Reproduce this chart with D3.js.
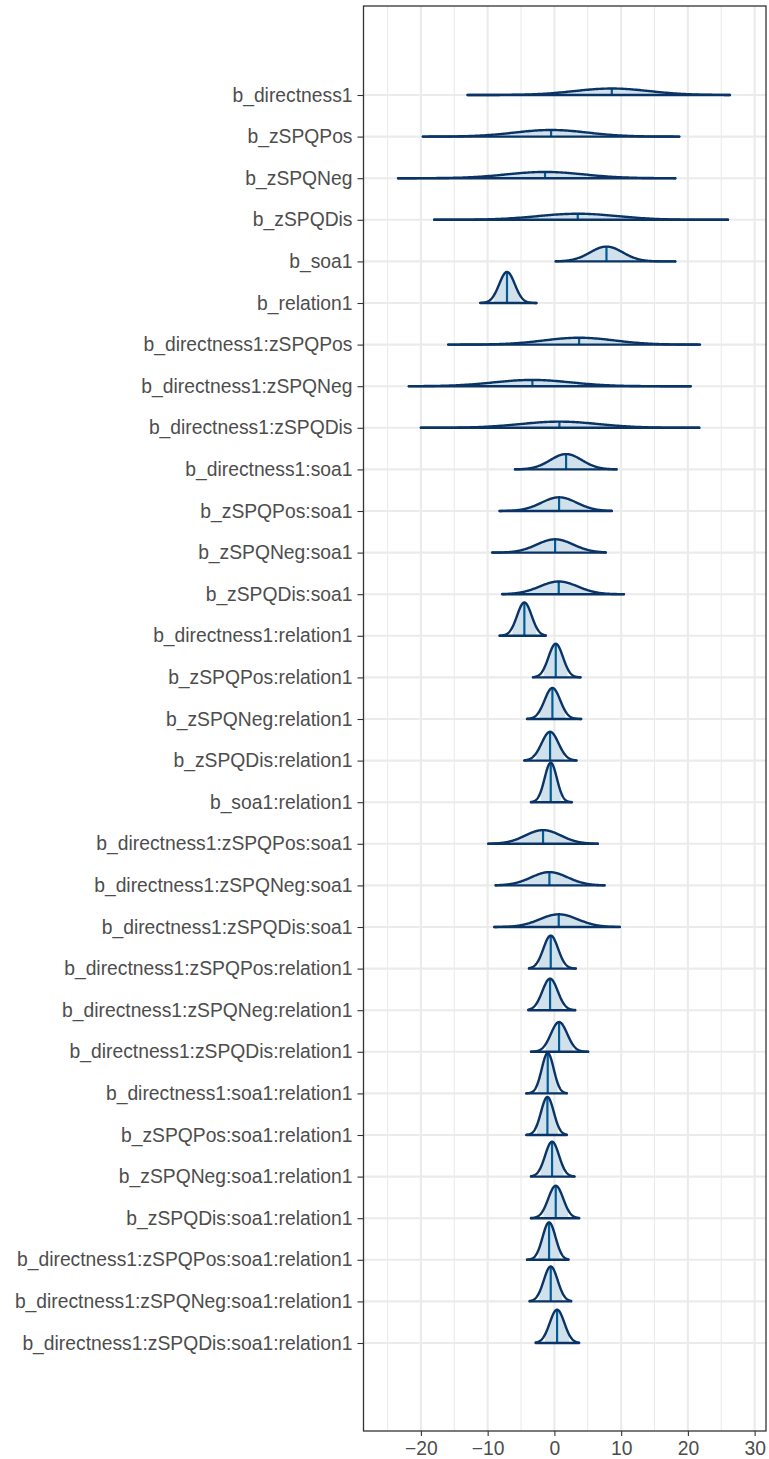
<!DOCTYPE html>
<html>
<head>
<meta charset="utf-8">
<script src="https://cdn.jsdelivr.net/npm/d3@7"></script>
<style>
  html, body { margin: 0; padding: 0; background: #ffffff; }
  svg { display: block; }
</style>
</head>
<body>
<svg id="chart" width="769" height="1459"></svg>
<script>
// ---- data ----
const params = [
  "b_directness1", "b_zSPQPos", "b_zSPQNeg", "b_zSPQDis", "b_soa1", "b_relation1",
  "b_directness1:zSPQPos", "b_directness1:zSPQNeg", "b_directness1:zSPQDis",
  "b_directness1:soa1", "b_zSPQPos:soa1", "b_zSPQNeg:soa1", "b_zSPQDis:soa1",
  "b_directness1:relation1", "b_zSPQPos:relation1", "b_zSPQNeg:relation1",
  "b_zSPQDis:relation1", "b_soa1:relation1",
  "b_directness1:zSPQPos:soa1", "b_directness1:zSPQNeg:soa1", "b_directness1:zSPQDis:soa1",
  "b_directness1:zSPQPos:relation1", "b_directness1:zSPQNeg:relation1", "b_directness1:zSPQDis:relation1",
  "b_directness1:soa1:relation1", "b_zSPQPos:soa1:relation1", "b_zSPQNeg:soa1:relation1",
  "b_zSPQDis:soa1:relation1", "b_directness1:zSPQPos:soa1:relation1",
  "b_directness1:zSPQNeg:soa1:relation1", "b_directness1:zSPQDis:soa1:relation1"
];
// posterior medians
const medians = [8.6, -0.5, -1.4, 3.5, 7.8, -7.1, 3.7, -3.3, 0.75,
  1.75, 0.7, 0.1, 0.65, -4.5, 0.2, -0.3, -0.65, -0.55,
  -1.7, -0.75, 0.65, -0.55, -0.65, 0.7, -1.0, -1.05, -0.35, 0.2, -0.8, -0.55, 0.4];
// posterior spread (sd)
const sds = [5.6, 5.5, 5.8, 6.0, 2.45, 1.17, 5.3, 5.8, 5.9,
  2.37, 2.65, 2.73, 2.86, 1.09, 1.08, 1.17, 1.26, 0.92,
  2.65, 2.73, 2.86, 1.10, 1.15, 1.22, 0.90, 0.955, 1.04, 1.12, 0.97, 1.04, 1.09];
// lowest and highest draws (extent of the outer line)
const lows = [-13.0, -19.7, -23.4, -18.0, 0.2, -11.1, -15.9, -21.8, -20.0,
  -5.9, -8.2, -9.3, -7.8, -8.2, -3.2, -4.1, -4.5, -3.5,
  -9.9, -8.8, -9.0, -3.8, -3.9, -3.5, -4.2, -4.2, -3.5, -3.5, -4.1, -3.7, -2.8];
const highs = [26.3, 18.7, 18.1, 26.0, 18.1, -2.7, 21.8, 20.4, 21.7,
  9.3, 8.6, 7.7, 10.4, -1.3, 3.9, 4.0, 3.3, 2.6,
  6.5, 7.5, 9.8, 3.2, 3.1, 5.05, 1.85, 1.85, 3.0, 3.7, 2.1, 2.5, 3.7];
const xTicks = [-20, -10, 0, 10, 20, 30];
const xMinorTicks = [-25, -15, -5, 5, 15, 25];
const innerZ = 1.645; // half-width of the shaded (90%) interval, in sd units

// ---- layout ----
const svg = d3.select("#chart");
const panel = { left: 363.5, right: 766, top: 6, bottom: 1431 };
const colors = {
  light: "#d1e1ec", mid: "#005b96", dark: "#0a3466",
  grid: "#ebebeb", border: "#333333", text: "#4d4d4d"
};
const fontFamily = "'Liberation Sans', Arial, Helvetica, sans-serif";

const x = d3.scaleLinear().domain([-28.6, 31.7]).range([panel.left, panel.right]);
const y = d3.scalePoint().domain(params).range([95, 1343]);
const h = d3.scaleLinear().domain([0, 1]).range([0, 91]); // density -> px height

const pdf = (v, m, s) => Math.exp(-0.5 * ((v - m) / s) ** 2) / (s * Math.sqrt(2 * Math.PI));

// ---- background & grid ----
svg.append("rect").attr("x", panel.left).attr("y", panel.top)
  .attr("width", panel.right - panel.left).attr("height", panel.bottom - panel.top)
  .attr("fill", "#fff");

const grid = svg.append("g");
grid.selectAll("line.minor").data(xMinorTicks).join("line")
  .attr("x1", d => x(d)).attr("x2", d => x(d))
  .attr("y1", panel.top).attr("y2", panel.bottom)
  .attr("stroke", colors.grid).attr("stroke-width", 1.1);
grid.selectAll("line.majorx").data(xTicks).join("line")
  .attr("x1", d => x(d)).attr("x2", d => x(d))
  .attr("y1", panel.top).attr("y2", panel.bottom)
  .attr("stroke", colors.grid).attr("stroke-width", 2.1);
grid.selectAll("line.majory").data(params).join("line")
  .attr("x1", panel.left).attr("x2", panel.right)
  .attr("y1", d => y(d)).attr("y2", d => y(d))
  .attr("stroke", colors.grid).attr("stroke-width", 2.1);

// ---- ridges ----
const ridges = svg.append("g");
params.forEach((p, i) => {
  const m = medians[i], s = sds[i], lo = lows[i], hi = highs[i];
  const base = y(p);
  const n = 200;
  const pts = d3.range(n + 1).map(k => lo + (hi - lo) * k / n);
  const area = d3.area().x(d => x(d)).y0(base).y1(d => base - h(pdf(d, m, s)));
  const line = d3.line().x(d => x(d)).y(d => base - h(pdf(d, m, s)));

  const ilo = Math.max(lo, m - innerZ * s), ihi = Math.min(hi, m + innerZ * s);
  const ipts = d3.range(n + 1).map(k => ilo + (ihi - ilo) * k / n);
  const g = ridges.append("g");
  g.append("path").attr("d", area(ipts)).attr("fill", colors.light).attr("stroke", "none");
  g.append("line")
    .attr("x1", x(m)).attr("x2", x(m))
    .attr("y1", base).attr("y2", base - h(pdf(m, m, s)))
    .attr("stroke", colors.mid).attr("stroke-width", 2.2);
  g.append("line")
    .attr("x1", x(lo)).attr("x2", x(hi)).attr("y1", base).attr("y2", base)
    .attr("stroke", colors.dark).attr("stroke-width", 2.4).attr("stroke-linecap", "round");
  g.append("path").attr("d", line(pts)).attr("fill", "none")
    .attr("stroke", colors.dark).attr("stroke-width", 2.4).attr("stroke-linejoin", "round")
    .attr("stroke-linecap", "round");
});

// ---- border ----
svg.append("rect").attr("x", panel.left).attr("y", panel.top)
  .attr("width", panel.right - panel.left).attr("height", panel.bottom - panel.top)
  .attr("fill", "none").attr("stroke", colors.border).attr("stroke-width", 1.3);

// ---- axes ----
const yAxis = d3.axisLeft(y).tickSize(6).tickPadding(5);
const gy = svg.append("g").attr("transform", `translate(${panel.left},0)`).call(yAxis);
gy.select(".domain").remove();
gy.selectAll(".tick line").attr("stroke", colors.border).attr("stroke-width", 1.1);
gy.selectAll(".tick text").attr("fill", colors.text)
  .style("font-family", fontFamily).style("font-size", "19.3px");

const xAxis = d3.axisBottom(x).tickValues(xTicks).tickSize(5).tickPadding(5)
  .tickFormat(d => d < 0 ? "\u2212" + Math.abs(d) : String(d));
const gx = svg.append("g").attr("transform", `translate(0,${panel.bottom})`).call(xAxis);
gx.select(".domain").remove();
gx.selectAll(".tick line").attr("stroke", colors.border).attr("stroke-width", 1.1);
gx.selectAll(".tick text").attr("fill", colors.text)
  .style("font-family", fontFamily).style("font-size", "19.3px");
</script>
</body>
</html>
